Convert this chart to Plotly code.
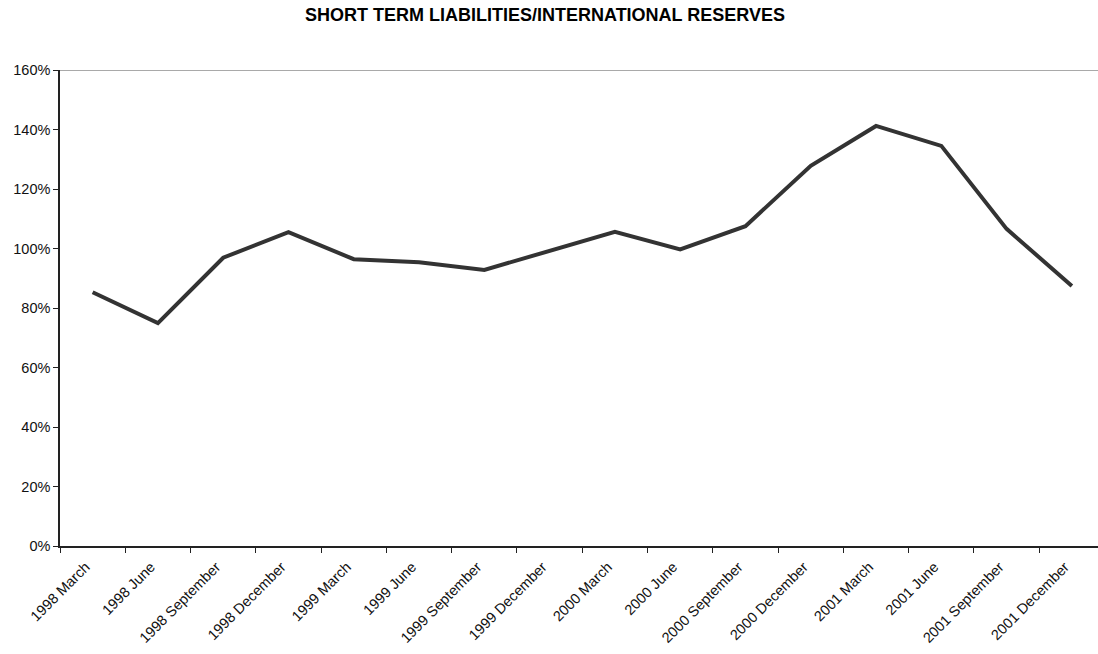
import plotly.graph_objects as go

# Quarterly periods on the category axis
quarters = [
    "1998 March", "1998 June", "1998 September", "1998 December",
    "1999 March", "1999 June", "1999 September", "1999 December",
    "2000 March", "2000 June", "2000 September", "2000 December",
    "2001 March", "2001 June", "2001 September", "2001 December",
]

# Short term liabilities as a share of international reserves, in percent
ratio_pct = [
    85.3, 74.9, 96.9, 105.5,
    96.4, 95.4, 92.8, 99.2,
    105.6, 99.7, 107.5, 127.8,
    141.2, 134.5, 106.6, 87.4,
]

y_ticks = [0, 20, 40, 60, 80, 100, 120, 140, 160]
y_tick_text = [f"{v}%" for v in y_ticks]

FONT = "Arial, 'Liberation Sans', sans-serif"

fig = go.Figure(
    go.Scatter(
        x=quarters,
        y=ratio_pct,
        mode="lines",
        line=dict(color="#333333", width=4),
        hoverinfo="skip",
    )
)

# Thin grey rule along the top of the value axis
fig.add_shape(
    type="line", xref="paper", yref="y",
    x0=0, x1=1, y0=160, y1=160,
    line=dict(color="#8c8c8c", width=1.5),
    layer="below",
)

fig.update_layout(
    width=1098,
    height=654,
    margin=dict(l=60, r=0, t=70, b=108),
    paper_bgcolor="white",
    plot_bgcolor="white",
    showlegend=False,
    font=dict(family=FONT, color="#111111"),
    title=dict(
        text="<b>SHORT TERM LIABILITIES/INTERNATIONAL RESERVES</b>",
        font=dict(family=FONT, size=18, color="#000000"),
        x=545 / 1098,
        xanchor="center",
        xref="container",
        yref="container",
        y=1 - 15 / 654,
        yanchor="middle",
    ),
    xaxis=dict(
        type="category",
        range=[-0.5, 15.4],
        tickson="boundaries",
        ticks="outside",
        ticklen=5,
        tickwidth=1,
        tickcolor="#222222",
        tickangle=-45,
        ticklabelshift=-7,
        ticklabelstandoff=5,
        tickfont=dict(family=FONT, size=14.5, color="#111111"),
        showline=True,
        linecolor="#222222",
        linewidth=1.5,
        showgrid=False,
        zeroline=False,
        fixedrange=True,
    ),
    yaxis=dict(
        range=[0, 160],
        tickvals=y_ticks,
        ticktext=y_tick_text,
        ticks="outside",
        ticklen=5,
        tickwidth=1,
        tickcolor="#222222",
        tickfont=dict(family=FONT, size=14.5, color="#111111"),
        showline=True,
        linecolor="#222222",
        linewidth=1.5,
        showgrid=False,
        zeroline=False,
        fixedrange=True,
    ),
)

fig.write_html("out.html", config={"displayModeBar": False})
